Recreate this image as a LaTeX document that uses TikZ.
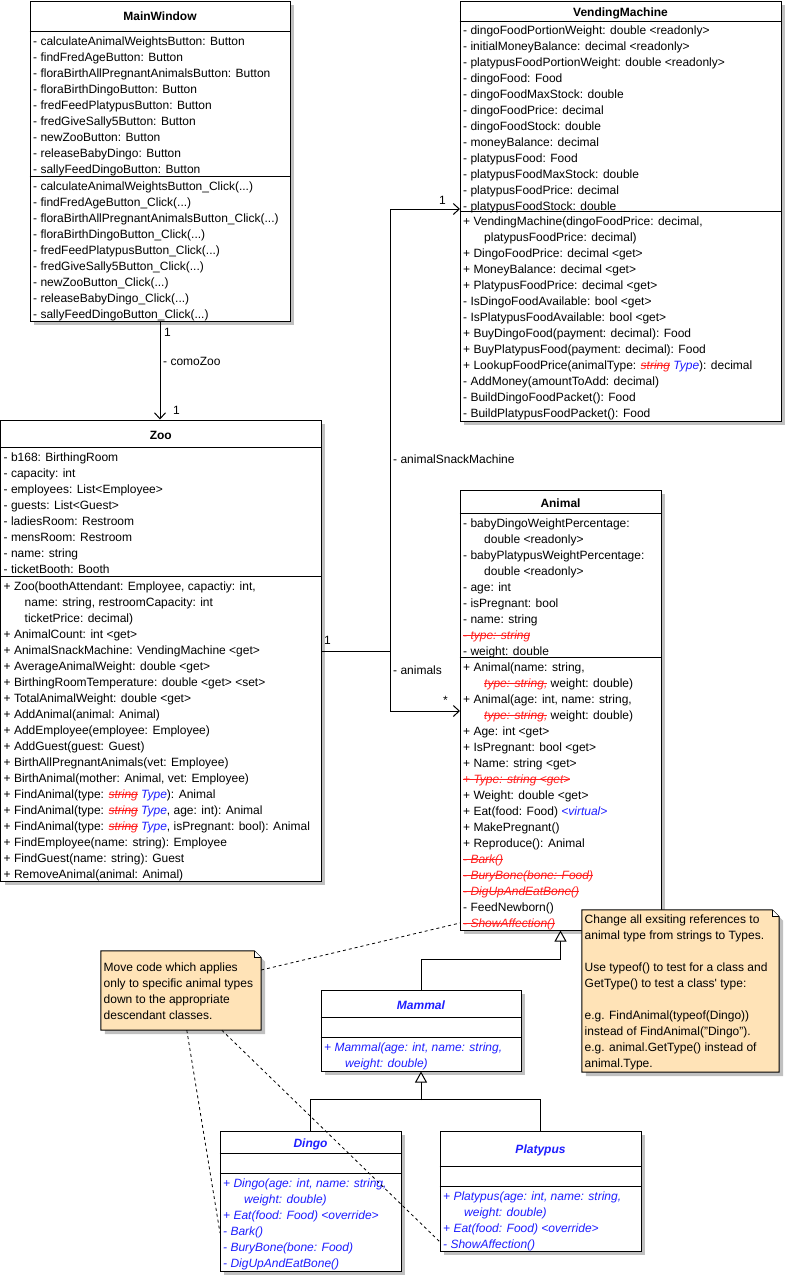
\documentclass[tikz,border=0pt]{standalone}
\usepackage{fontspec}
\setmainfont{Liberation Sans}
\usetikzlibrary{arrows.meta,calc,shadows}
\definecolor{notefill}{RGB}{255,227,183}
\definecolor{shadowgrey}{RGB}{192,192,192}
\definecolor{newblue}{RGB}{30,30,255}
\definecolor{oldred}{RGB}{255,30,30}
\newsavebox\gonebox
\newcommand\gone[1]{\sbox\gonebox{\color{oldred}\itshape #1}\rlap{\color{oldred}\rule[3.4pt]{\wd\gonebox}{0.9pt}}\usebox\gonebox}
\newcommand\added[1]{\textcolor{newblue}{\itshape #1}}
\newcommand\ind{\hspace*{21pt}}
\newcommand\clk{\_Click(.\kern0pt.\kern0pt.)}
\newcommand\members[4][]{\foreach \m [count=\i from 0] in {#4} {\node[member,#1] at (#2,{#3+16*\i}) {\m};}}
\newcommand\divider[2]{\draw[boxline] ($(#1.north west)+(0,#2)$) -- ($(#1.north east)+(0,#2)$);}
\newcommand\notepath[2]{($(#1.north west)+#2$) -- ($(#1.north east)+(-7,0)+#2$) -- ($(#1.north east)+(0,7)+#2$) -- ($(#1.south east)+#2$) -- ($(#1.south west)+#2$) -- cycle}

\begin{document}
\begin{tikzpicture}[x=1pt,y=-1pt,
	boxline/.style={line width=1pt},
	classbox/.style={draw,line width=1pt,fill=white,inner sep=0pt,
		drop shadow={shadow xshift=4pt,shadow yshift=-4pt,fill=shadowgrey,opacity=1}},
	title/.style={anchor=base,inner sep=0pt,font=\fontsize{12}{14}\selectfont\bfseries},
	newtitle/.style={title,text=newblue,font=\fontsize{12}{14}\selectfont\bfseries\itshape},
	member/.style={anchor=base west,inner sep=0pt,font=\fontsize{12}{14}\selectfont},
	newmember/.style={text=newblue,font=\fontsize{12}{14}\selectfont\itshape},
	assoc/.style={line width=1pt,-{Straight Barb[length=6pt,width=11pt]}},
	inherit/.style={line width=1pt,-{Triangle[length=11pt,width=12pt,fill=white]}},
	noteline/.style={line width=0.8pt,dash pattern=on 3pt off 3pt},
	notebox/.style={inner sep=0pt}]
		%%%%% START %%%%%
		\useasboundingbox (0,0) rectangle (805,1275);
		
		% MainWindow
		\node[classbox,minimum width=260pt,minimum height=320pt] (mainwin) at (160,161) {};
		\divider{mainwin}{31}
		\divider{mainwin}{176}
		\node[title] at (160,20) {MainWindow};
		\members{33}{45}{- calculateAnimalWeightsButton: Button, - findFredAgeButton: Button,
			- floraBirthAllPregnantAnimalsButton: Button, - floraBirthDingoButton: Button,
			- fredFeedPlatypusButton: Button, - fredGiveSally5Button: Button,
			- newZooButton: Button, - releaseBabyDingo: Button, - sallyFeedDingoButton: Button}
		\members{33}{190}{- calculateAnimalWeightsButton\clk, - findFredAgeButton\clk,
			- floraBirthAllPregnantAnimalsButton\clk, - floraBirthDingoButton\clk,
			- fredFeedPlatypusButton\clk, - fredGiveSally5Button\clk,
			- newZooButton\clk, - releaseBabyDingo\clk, - sallyFeedDingoButton\clk}
		
		% VendingMachine
		\node[classbox,minimum width=321pt,minimum height=420pt] (vend) at (620.5,211) {};
		\divider{vend}{20.5}
		\divider{vend}{211}
		\node[title] at (620.5,16) {VendingMachine};
		\members{463}{34}{- dingoFoodPortionWeight: double <readonly>,
			- initialMoneyBalance: decimal <readonly>,
			- platypusFoodPortionWeight: double <readonly>,
			- dingoFood: Food, - dingoFoodMaxStock: double, - dingoFoodPrice: decimal,
			- dingoFoodStock: double, - moneyBalance: decimal, - platypusFood: Food,
			- platypusFoodMaxStock: double, - platypusFoodPrice: decimal,
			- platypusFoodStock: double}
		\members{463}{225}{{+ VendingMachine(dingoFoodPrice: decimal,},
			\ind platypusFoodPrice: decimal),
			+ DingoFoodPrice: decimal <get>, + MoneyBalance: decimal <get>,
			+ PlatypusFoodPrice: decimal <get>, - IsDingoFoodAvailable: bool <get>,
			- IsPlatypusFoodAvailable: bool <get>,
			+ BuyDingoFood(payment: decimal): Food,
			+ BuyPlatypusFood(payment: decimal): Food,
			+ LookupFoodPrice(animalType: \gone{string} \added{Type}): decimal,
			- AddMoney(amountToAdd: decimal), - BuildDingoFoodPacket(): Food,
			- BuildPlatypusFoodPacket(): Food}
		
		% Zoo
		\node[classbox,minimum width=320.5pt,minimum height=461pt] (zoo) at (160.75,650.5) {};
		\divider{zoo}{28}
		\divider{zoo}{157}
		\node[title] at (160.75,439) {Zoo};
		\members{3.5}{461}{- b168: BirthingRoom, - capacity: int, - employees: List<Employee>,
			- guests: List<Guest>, - ladiesRoom: Restroom, - mensRoom: Restroom,
			- name: string, - ticketBooth: Booth}
		\members{3.5}{590}{{+ Zoo(boothAttendant: Employee, capactiy: int,},
			{\ind name: string, restroomCapacity: int},
			\ind ticketPrice: decimal),
			+ AnimalCount: int <get>, + AnimalSnackMachine: VendingMachine <get>,
			+ AverageAnimalWeight: double <get>,
			+ BirthingRoomTemperature: double <get> <set>,
			+ TotalAnimalWeight: double <get>, + AddAnimal(animal: Animal),
			+ AddEmployee(employee: Employee), + AddGuest(guest: Guest),
			+ BirthAllPregnantAnimals(vet: Employee),
			{+ BirthAnimal(mother: Animal, vet: Employee)},
			+ FindAnimal(type: \gone{string} \added{Type}): Animal,
			{+ FindAnimal(type: \gone{string} \added{Type}, age: int): Animal},
			{+ FindAnimal(type: \gone{string} \added{Type}, isPregnant: bool): Animal},
			+ FindEmployee(name: string): Employee, + FindGuest(name: string): Guest,
			+ RemoveAnimal(animal: Animal)}
		
		% Animal
		\node[classbox,minimum width=201pt,minimum height=440pt] (animal) at (560.5,710) {};
		\divider{animal}{24}
		\divider{animal}{168}
		\node[title] at (560.5,507) {Animal};
		\members{463}{527}{- babyDingoWeightPercentage:, \ind double <readonly>,
			- babyPlatypusWeightPercentage:, \ind double <readonly>,
			- age: int, - isPregnant: bool, - name: string,
			\gone{- type: string}, - weight: double}
		\members{463}{671}{{+ Animal(name: string,},
			{\ind\gone{type: string,} weight: double)},
			{+ Animal(age: int, name: string,},
			{\ind\gone{type: string,} weight: double)},
			+ Age: int <get>, + IsPregnant: bool <get>, + Name: string <get>,
			\gone{+ Type: string <get>}, + Weight: double <get>,
			+ Eat(food: Food) \added{<virtual>}, + MakePregnant(), + Reproduce(): Animal,
			\gone{- Bark()}, \gone{- BuryBone(bone: Food)}, \gone{- DigUpAndEatBone()},
			- FeedNewborn(), \gone{- ShowAffection()}}
		
		% Mammal
		\node[classbox,minimum width=200pt,minimum height=81pt] (mammal) at (421,1030.5) {};
		\divider{mammal}{28}
		\divider{mammal}{48}
		\node[newtitle] at (421,1009) {Mammal};
		\members[newmember]{324}{1051}{{+ Mammal(age: int, name: string,}, \ind weight: double)}
		
		% Dingo
		\node[classbox,minimum width=181pt,minimum height=140pt] (dingo) at (310.5,1201) {};
		\divider{dingo}{23}
		\divider{dingo}{43}
		\node[newtitle] at (310.5,1147) {Dingo};
		\members[newmember]{223}{1187}{{+ Dingo(age: int, name: string,}, \ind weight: double),
			+ Eat(food: Food) <override>, - Bark(), - BuryBone(bone: Food), - DigUpAndEatBone()}
		
		% Platypus
		\node[classbox,minimum width=201pt,minimum height=120pt] (platy) at (540.5,1191) {};
		\divider{platy}{36}
		\divider{platy}{56}
		\node[newtitle] at (540.5,1153) {Platypus};
		\members[newmember]{443}{1200}{{+ Platypus(age: int, name: string,}, \ind weight: double),
			+ Eat(food: Food) <override>, - ShowAffection()}
		
		% associations
		\coordinate (zooout) at (321,651);
		\coordinate (snackin) at (460,209);
		\coordinate (animalin) at (460,711);
		\draw[assoc] (mainwin.south) -- (mainwin.south |- zoo.north);
		\draw[assoc] (zooout) -- ++(69,0) |- (snackin);
		\draw[assoc] (zooout) -- ++(69,0) |- (animalin);
		\node[member] at (164,336) {1};
		\node[member] at (163,365) {- comoZoo};
		\node[member] at (173,414) {1};
		\node[member] at (439,204) {1};
		\node[member] at (393,463) {- animalSnackMachine};
		\node[member] at (324,644) {1};
		\node[member] at (393,674) {- animals};
		\node[member] at (443,704) {*};
		
		% generalisations
		\coordinate (fork) at (421,1100);
		\draw[inherit] (mammal.north) -- ++(0,-30) -| (animal.south);
		\draw[boxline] (dingo.north) -- ++(0,-31) -| (platy.north);
		\draw[inherit] (fork) -- (mammal.south);
		
		% notes
		\node[notebox,minimum width=160pt,minimum height=79pt] (notemove) at (181,990.5) {};
		\fill[shadowgrey] \notepath{notemove}{(4,4)};
		\filldraw[boxline,fill=notefill] \notepath{notemove}{(0,0)};
		\draw[boxline,fill=white] ($(notemove.north east)+(-7,0)$) -- ($(notemove.north east)+(-7,7)$) -- ($(notemove.north east)+(0,7)$);
		\members{103.5}{971.5}{Move code which applies, only to specific animal types,
			down to the appropriate, descendant classes.}
		
		\node[notebox,minimum width=197pt,minimum height=162pt] (notetype) at (680.5,991) {};
		\fill[shadowgrey] \notepath{notetype}{(4,4)};
		\filldraw[boxline,fill=notefill] \notepath{notetype}{(0,0)};
		\draw[boxline,fill=white] ($(notetype.north east)+(-7,0)$) -- ($(notetype.north east)+(-7,7)$) -- ($(notetype.north east)+(0,7)$);
		\members{584.5}{923.5}{Change all exsiting references to, animal type from strings to Types.}
		\members{584.5}{971.5}{Use typeof() to test for a class and, GetType() to test a class\textquotesingle{} type:}
		\members{584.5}{1019.5}{e.g. FindAnimal(typeof(Dingo)), instead of FindAnimal("Dingo").,
			e.g. animal.GetType() instead of, animal.Type.}
		
		% note links
		\coordinate (barkrow) at (220,1233);
		\coordinate (showrow) at (440,1242);
		\coordinate (animalrow) at (460,923);
		\draw[noteline] (notemove.east |- animalrow) ++(0,47) -- (animalrow);
		\draw[noteline] ($(notemove.south west)+(86,0)$) -- (barkrow);
		\draw[noteline] ($(notemove.south west)+(121,0)$) -- (showrow);
		%%%%% END %%%%%
	\end{tikzpicture}
\end{document}
